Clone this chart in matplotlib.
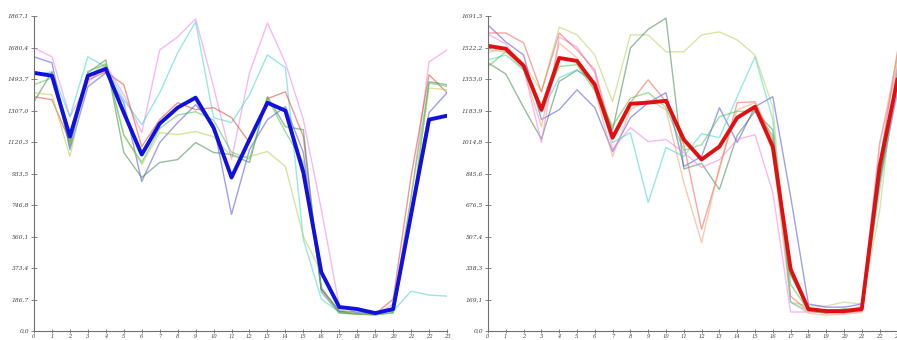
import matplotlib.pyplot as plt
import numpy as np

hours = list(range(24))

# ---- panneau gauche ----
left_max = 1867.1
left_mean = [1530, 1513, 1152, 1513, 1554, 1294, 1046, 1229, 1324, 1383, 1205, 910,
             1135, 1353, 1306, 940, 349, 142, 130, 106, 130, 691, 1253, 1276]
left_pink = [1678, 1625, 1270, 1471, 1578, 1400, 1176, 1666, 1743, 1850, 1448, 1016,
             1530, 1826, 1590, 1253, 721, 148, 106, 95, 160, 780, 1595, 1666]
left_cyan = [1519, 1536, 1270, 1625, 1566, 1371, 1223, 1412, 1649, 1832, 1265, 1235,
             1400, 1637, 1560, 544, 189, 112, 106, 106, 118, 236, 213, 207]
left_red = [1389, 1371, 1123, 1489, 1536, 1460, 1093, 1253, 1353, 1312, 1324, 1265,
            1117, 1377, 1418, 1152, 248, 118, 100, 100, 189, 916, 1519, 1412]
left_slate = [1625, 1590, 1075, 1448, 1530, 1353, 886, 1117, 1235, 1341, 1223, 691,
              1075, 1253, 1330, 1058, 248, 118, 112, 112, 118, 721, 1294, 1412]
left_darkgreen = [1360, 1536, 1093, 1530, 1607, 1058, 910, 999, 1016, 1117, 1058, 1046,
                  999, 1389, 1211, 1193, 231, 106, 100, 100, 106, 650, 1477, 1460]
left_olive = [1412, 1400, 1034, 1507, 1590, 1164, 987, 1176, 1164, 1182, 1152, 1034,
              1034, 1064, 975, 561, 349, 130, 100, 95, 110, 700, 1440, 1430]
left_green = [1460, 1500, 1110, 1540, 1580, 1160, 1000, 1200, 1280, 1300, 1250, 1060,
              1020, 1380, 1180, 1000, 260, 110, 100, 95, 110, 800, 1470, 1450]

# ---- panneau droit ----
right_max = 1691.3
right_mean = [1531, 1515, 1424, 1188, 1466, 1450, 1322, 1038, 1220, 1226, 1236, 1028,
              921, 990, 1145, 1204, 990, 332, 118, 107, 107, 118, 883, 1349]
right_olive = [1493, 1525, 1440, 1284, 1632, 1590, 1482, 1231, 1590, 1590, 1499, 1499,
               1590, 1606, 1563, 1482, 1204, 155, 134, 134, 155, 145, 642, 1472]
right_darkgreen = [1440, 1380, 1200, 1030, 1340, 1400, 1340, 1080, 1520, 1620, 1680, 870,
                   900, 760, 1050, 1180, 1080, 300, 120, 100, 110, 120, 800, 1400]
right_slate = [1643, 1552, 1482, 1135, 1188, 1295, 1199, 963, 1145, 1226, 1279, 883,
               937, 1199, 1012, 1204, 1258, 723, 145, 128, 128, 145, 803, 1284]
right_pink = [1594, 1541, 1413, 1012, 1579, 1525, 1386, 975, 1092, 1017, 1028, 958,
              878, 920, 1028, 1054, 744, 102, 102, 100, 105, 134, 1011, 1420]
right_coral = [1600, 1600, 1547, 1284, 1600, 1509, 1402, 1044, 1226, 1349, 1231, 1000,
               546, 867, 1226, 1231, 1028, 187, 107, 96, 96, 107, 900, 1500]
right_peach = [1509, 1498, 1402, 1097, 1547, 1466, 1295, 937, 1188, 1242, 1188, 797,
               476, 883, 1188, 1225, 958, 155, 96, 85, 90, 100, 1000, 1480]
right_cyan = [1456, 1482, 1402, 1172, 1360, 1402, 1330, 1012, 1065, 690, 985, 937,
              1060, 1038, 1258, 1472, 1135, 155, 107, 100, 100, 107, 750, 1350]
right_green = [1420, 1500, 1430, 1200, 1420, 1430, 1290, 1100, 1250, 1280, 1200, 970,
               1000, 1150, 1180, 1180, 1050, 250, 110, 95, 120, 110, 800, 1350]


def habille_axe(ax, ymax):
    # axes "a l'ancienne" : seulement gauche et bas, petites croix pour les graduations
    ax.set_xlim(0, 23)
    ax.set_ylim(0, ymax)
    for cote in ['top', 'right']:
        ax.spines[cote].set_visible(False)
    for cote in ['left', 'bottom']:
        ax.spines[cote].set_color('#707070')
        ax.spines[cote].set_linewidth(0.8)
    yt = np.linspace(0, ymax, 11)
    ax.set_yticks(yt)
    ax.set_yticklabels([f"{v:.1f}".replace('.', ',') for v in yt])
    ax.set_xticks(hours)
    ax.set_xticklabels([str(h) for h in hours])
    ax.tick_params(direction='inout', length=4, width=0.6, color='#707070',
                   labelsize=4.3, labelcolor='#404040', pad=1.5)
    ax.tick_params(axis='x', length=3, labelsize=3.8, pad=0.3)
    for lab in ax.get_yticklabels() + ax.get_xticklabels():
        lab.set_fontstyle('italic')
        lab.set_family('DejaVu Serif')


fig = plt.figure(figsize=(8.97, 3.4), dpi=100)
ax1 = fig.add_axes([34 / 897, 9 / 340, 413 / 897, 315 / 340])
ax2 = fig.add_axes([488 / 897, 9 / 340, 409.4 / 897, 315 / 340])

fines_gauche = [(left_pink, '#f080e8'), (left_cyan, '#40d8c8'), (left_red, '#e04830'),
                (left_slate, '#5050e0'), (left_darkgreen, '#408850'),
                (left_olive, '#b0d050'), (left_green, '#50c050')]
for serie, coul in fines_gauche:
    ax1.plot(hours, serie, color=coul, lw=1.0, alpha=0.55)
ax1.plot(hours, left_mean, color='#1010e0', lw=2.8)
habille_axe(ax1, left_max)

fines_droite = [(right_olive, '#b8d060'), (right_darkgreen, '#408850'),
                (right_slate, '#5050e0'), (right_pink, '#f080e8'),
                (right_coral, '#f06050'), (right_peach, '#f0a070'),
                (right_cyan, '#40d8c8'), (right_green, '#50c050')]
for serie, coul in fines_droite:
    ax2.plot(hours, serie, color=coul, lw=1.0, alpha=0.55)
ax2.plot(hours, right_mean, color='#e01010', lw=2.8)
habille_axe(ax2, right_max)

fig.savefig('out.png', dpi=100)
